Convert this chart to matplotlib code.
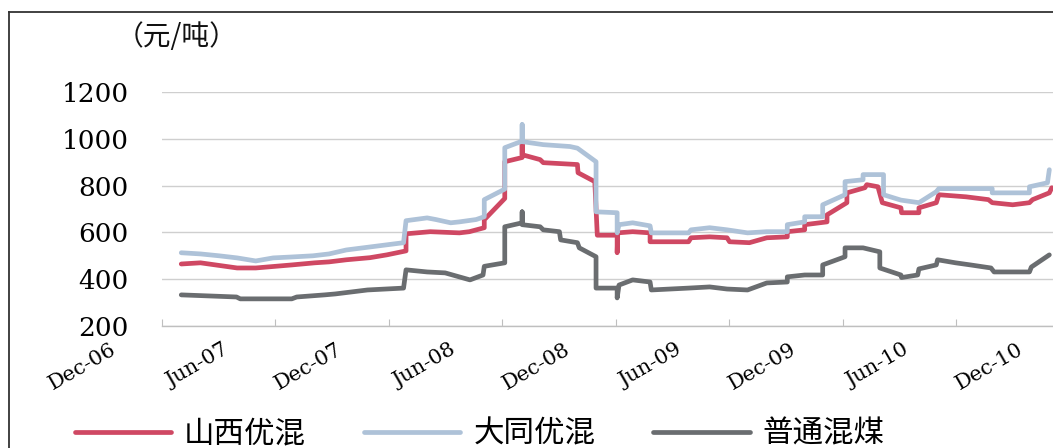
import matplotlib
matplotlib.use("Agg")
import matplotlib.pyplot as plt
import matplotlib.dates as mdates
import matplotlib.transforms as mtransforms
from matplotlib.lines import Line2D
import pandas as pd

# 山西优混 price (yuan/ton)
sx_dates = ["2007-01-01", "2007-02-01", "2007-04-01", "2007-05-01", "2007-06-28",
            "2007-08-04", "2007-08-27", "2007-09-24", "2007-11-01", "2007-11-28",
            "2007-12-29", "2007-12-29", "2008-02-06", "2008-03-24", "2008-04-09",
            "2008-05-03", "2008-05-03", "2008-06-05", "2008-06-05", "2008-07-03",
            "2008-07-03", "2008-07-03", "2008-08-01", "2008-08-06", "2008-09-30",
            "2008-10-01", "2008-10-28", "2008-11-01", "2008-12-03", "2008-12-03",
            "2008-12-04", "2008-12-28", "2009-01-25", "2009-01-25", "2009-03-28",
            "2009-04-01", "2009-05-01", "2009-05-29", "2009-06-02", "2009-07-04",
            "2009-08-01", "2009-09-03", "2009-09-03", "2009-10-01", "2009-10-01",
            "2009-11-06", "2009-11-06", "2009-12-08", "2009-12-08", "2010-01-06",
            "2010-01-09", "2010-01-27", "2010-02-03", "2010-03-05", "2010-03-06",
            "2010-04-03", "2010-04-03", "2010-05-01", "2010-05-05", "2010-06-18",
            "2010-07-24", "2010-07-30", "2010-09-01", "2010-09-28", "2010-10-03",
            "2010-10-30", "2010-11-03"]
sx_price = [465, 470, 448, 448, 461,
            470, 474, 483, 492, 504,
            521, 594, 603, 598, 603,
            620, 654, 745, 902, 920,
            984, 932, 911, 898, 890,
            855, 817, 588, 588, 513,
            598, 603, 598, 560, 560,
            577, 581, 577, 560, 556,
            577, 581, 603, 611, 633,
            645, 675, 727, 769, 791,
            804, 795, 727, 705, 684,
            684, 705, 727, 761, 752,
            740, 727, 718, 727, 740,
            769, 791]

# 大同优混 price
dt_dates = ["2007-01-01", "2007-02-01", "2007-03-03", "2007-04-01", "2007-05-01",
            "2007-05-29", "2007-06-28", "2007-08-01", "2007-08-27", "2007-09-24",
            "2007-12-25", "2007-12-29", "2008-02-01", "2008-02-15", "2008-03-10",
            "2008-03-24", "2008-04-20", "2008-05-03", "2008-05-03", "2008-06-05",
            "2008-06-05", "2008-07-03", "2008-07-03", "2008-07-03", "2008-08-06",
            "2008-09-18", "2008-09-30", "2008-10-30", "2008-10-30", "2008-12-03",
            "2008-12-03", "2008-12-06", "2008-12-28", "2009-01-25", "2009-01-27",
            "2009-03-28", "2009-04-01", "2009-05-01", "2009-05-29", "2009-07-01",
            "2009-08-01", "2009-09-03", "2009-09-03", "2009-10-01", "2009-10-01",
            "2009-10-30", "2009-10-30", "2009-12-05", "2009-12-05", "2010-01-03",
            "2010-01-03", "2010-02-05", "2010-02-05", "2010-03-05", "2010-04-03",
            "2010-05-01", "2010-05-05", "2010-07-30", "2010-07-30", "2010-09-28",
            "2010-09-28", "2010-10-27", "2010-10-30"]
dt_price = [513, 508, 500, 491, 478,
            491, 495, 500, 508, 525,
            556, 650, 662, 655, 641,
            645, 655, 667, 740, 785,
            962, 990, 1061, 988, 975,
            967, 960, 902, 688, 684,
            598, 633, 641, 628, 598,
            598, 611, 620, 611, 598,
            603, 603, 633, 645, 667,
            667, 718, 761, 817, 825,
            847, 847, 761, 738, 727,
            774, 787, 787, 769, 769,
            795, 812, 868]

# 普通混煤 price
pt_dates = ["2007-01-01", "2007-03-31", "2007-04-06", "2007-06-28", "2007-07-06",
            "2007-08-20", "2007-09-06", "2007-10-28", "2007-12-25", "2007-12-29",
            "2008-02-01", "2008-03-01", "2008-04-10", "2008-05-01", "2008-05-03",
            "2008-06-05", "2008-06-05", "2008-07-03", "2008-07-03", "2008-07-03",
            "2008-08-01", "2008-08-06", "2008-09-01", "2008-09-03", "2008-09-30",
            "2008-10-03", "2008-10-30", "2008-10-30", "2008-12-03", "2008-12-03",
            "2008-12-06", "2008-12-28", "2009-01-25", "2009-01-27", "2009-03-28",
            "2009-05-01", "2009-05-29", "2009-07-01", "2009-08-01", "2009-09-03",
            "2009-09-03", "2009-10-01", "2009-10-30", "2009-10-30", "2009-12-05",
            "2009-12-05", "2010-01-03", "2010-01-30", "2010-01-30", "2010-03-05",
            "2010-03-06", "2010-04-01", "2010-04-03", "2010-05-01", "2010-05-03",
            "2010-06-01", "2010-06-25", "2010-07-28", "2010-08-02", "2010-09-28",
            "2010-10-01", "2010-10-30"]
pt_price = [333, 324, 316, 316, 324,
            333, 337, 354, 362, 440,
            431, 427, 397, 418, 455,
            470, 624, 641, 688, 633,
            624, 611, 603, 568, 556,
            534, 496, 362, 362, 320,
            375, 397, 388, 354, 362,
            367, 358, 354, 384, 388,
            410, 418, 418, 461, 496,
            534, 534, 517, 448, 418,
            407, 418, 444, 461, 483,
            470, 461, 448, 431, 431,
            452, 504]

series_names = ["山西优混", "大同优混", "普通混煤"]
series_colors = ["#CF4863", "#AEC2D8", "#6A6D70"]

tick_dates = pd.date_range("2006-12-01", "2010-12-01", freq="6MS")
y_ticks = [200, 400, 600, 800, 1000, 1200]

plt.rcParams['font.family'] = ['Noto Sans CJK SC', 'DejaVu Sans']

fig = plt.figure(figsize=(10.53, 4.48), dpi=100)
# plot area runs past the right edge of the figure
ax = fig.add_axes([162 / 1053, 122 / 448, 919 / 1053, 234 / 448])

all_series = [(sx_dates, sx_price), (dt_dates, dt_price), (pt_dates, pt_price)]
for (d, v), name, color in zip(all_series, series_names, series_colors):
    ax.plot(pd.to_datetime(d), v, color=color, lw=3.4, label=name,
            solid_joinstyle="round", solid_capstyle="round")

ax.set_ylim(200, 1200)
ax.set_xlim(pd.Timestamp("2006-12-01"), pd.Timestamp("2010-12-20"))
ax.set_yticks(y_ticks)
ax.yaxis.grid(True, color="#CFCFCF", lw=1.0)
ax.set_axisbelow(True)
for side in ["left", "right", "top"]:
    ax.spines[side].set_visible(False)
ax.spines["bottom"].set_color("#BFBFBF")
ax.spines["bottom"].set_linewidth(1.0)

ax.set_xticks(tick_dates)
ax.xaxis.set_major_formatter(mdates.DateFormatter("%b-%y"))
ax.tick_params(axis="x", direction="in", length=5, color="#BFBFBF", pad=10)
ax.tick_params(axis="y", length=0, pad=24)
for lab in ax.get_xticklabels():
    lab.set_family("DejaVu Serif")
    lab.set_fontsize(15)
    lab.set_rotation(30)
    lab.set_ha("right")
    lab.set_va("top")
    lab.set_transform(lab.get_transform() +
                      mtransforms.ScaledTranslation(-0.43, 0, fig.dpi_scale_trans))
for lab in ax.get_yticklabels():
    lab.set_family("DejaVu Serif")
    lab.set_fontsize(19)

fig.text(177 / 1053, 1 - 37 / 448, "（元/吨）", ha="center", va="center",
         fontsize=20, color="#111111")

# outer chart border (left and top edges)
border_kw = dict(color="#333333", lw=1.3, transform=fig.transFigure)
fig.add_artist(Line2D([9 / 1053, 9 / 1053], [0, 1 - 12 / 448], **border_kw))
fig.add_artist(Line2D([9 / 1053, 1], [1 - 12 / 448, 1 - 12 / 448], **border_kw))

handles = [Line2D([], [], color=c, lw=3.4, solid_capstyle="round") for c in series_colors]
fig.legend(handles, series_names, loc="center left",
           bbox_to_anchor=(75 / 1053, 14 / 448), ncol=3, frameon=False,
           fontsize=22, handlelength=3.15, handletextpad=0.42, columnspacing=1.9,
           borderpad=0, borderaxespad=0)

fig.savefig("out.png", dpi=100)
